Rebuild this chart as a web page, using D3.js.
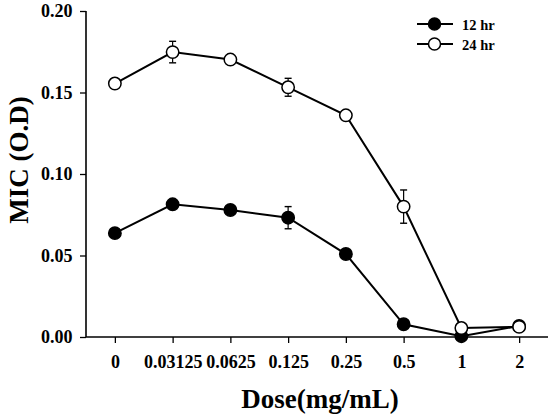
<!DOCTYPE html>
<html><head><meta charset="utf-8">
<script src="https://cdn.jsdelivr.net/npm/d3@7"></script>
<style>body{margin:0;background:#fff}svg{display:block}text{font-family:"Liberation Serif","Times New Roman",serif;font-weight:bold;fill:#000}</style>
</head><body><svg id="c" width="550" height="414"></svg>
<script>
const categories = ["0","0.03125","0.0625","0.125","0.25","0.5","1","2"];
const series12 = [0.0637,0.0814,0.0779,0.0732,0.0509,0.0078,0.0005,0.0068];
const err12 = [0,0,0,0.0068,0,0,0,0];
const series24 = [0.1555,0.1748,0.1702,0.1532,0.1360,0.0800,0.0055,0.0062];
const err24 = [0,0.0066,0,0.0055,0,0.0102,0,0];
const yTicks = [0,0.05,0.10,0.15,0.20];
const seriesNames = ["12 hr","24 hr"];

const svg = d3.select("#c");
const x = d3.scalePoint().domain(categories).range([86,548]).padding(0.5);
const y = d3.scaleLinear().domain([0,0.2]).range([337,11]);

// axes
const gx = svg.append("g").attr("transform","translate(0,337)")
  .call(d3.axisBottom(x).tickSize(6).tickSizeOuter(0).tickPadding(12.3));
gx.select(".domain").attr("stroke","#000").attr("stroke-width",1.6).attr("d","M86,0H548");
gx.selectAll(".tick line").attr("stroke","#000").attr("stroke-width",1.3);
gx.selectAll(".tick text").style("font-size","18px").attr("fill","#000");

const gy = svg.append("g").attr("transform","translate(86,0)")
  .call(d3.axisLeft(y).tickValues(yTicks).tickFormat(d3.format(".2f")).tickSize(6).tickSizeOuter(0).tickPadding(7.5));
gy.select(".domain").attr("stroke","#000").attr("stroke-width",1.6).attr("d","M0,11V337");
gy.selectAll(".tick line").attr("stroke","#000").attr("stroke-width",1.3);
gy.selectAll(".tick text").style("font-size","18px").attr("fill","#000");

svg.append("text").attr("x",320).attr("y",408).attr("text-anchor","middle").style("font-size","27px").text("Dose(mg/mL)");
svg.append("text").attr("transform","translate(28,160) rotate(-90)").attr("text-anchor","middle").style("font-size","27px").text("MIC (O.D)");

const line = d3.line().x((d,i)=>x(categories[i])).y(d=>y(d));
function drawSeries(vals, errs, fill){
  const g = svg.append("g");
  g.append("path").attr("d",line(vals)).attr("fill","none").attr("stroke","#000").attr("stroke-width",2);
  vals.forEach((v,i)=>{
    if(errs[i]>0){
      const cx = x(categories[i]);
      const y1 = y(v+errs[i]), y2 = y(v-errs[i]);
      g.append("line").attr("x1",cx).attr("x2",cx).attr("y1",y1).attr("y2",y2).attr("stroke","#000").attr("stroke-width",1.2);
      [y1,y2].forEach(yy=>g.append("line").attr("x1",cx-3.5).attr("x2",cx+3.5).attr("y1",yy).attr("y2",yy).attr("stroke","#000").attr("stroke-width",1.4));
    }
  });
  g.selectAll("circle").data(vals).join("circle")
    .attr("cx",(d,i)=>x(categories[i])).attr("cy",d=>y(d)).attr("r",6.2)
    .attr("fill",fill).attr("stroke","#000").attr("stroke-width",1.5);
}
drawSeries(series12, err12, "#000");
drawSeries(series24, err24, "#fff");

// legend
const leg = svg.append("g");
seriesNames.forEach((n,i)=>{
  const yy = 24 + i*20;
  leg.append("line").attr("x1",417).attr("x2",453).attr("y1",yy).attr("y2",yy).attr("stroke","#000").attr("stroke-width",2);
  leg.append("circle").attr("cx",434.5).attr("cy",yy).attr("r",6).attr("fill",i===0?"#000":"#fff").attr("stroke","#000").attr("stroke-width",1.5);
  leg.append("text").attr("x",462).attr("y",yy+5.5).style("font-size","14.5px").text(n);
});
</script></body></html>
